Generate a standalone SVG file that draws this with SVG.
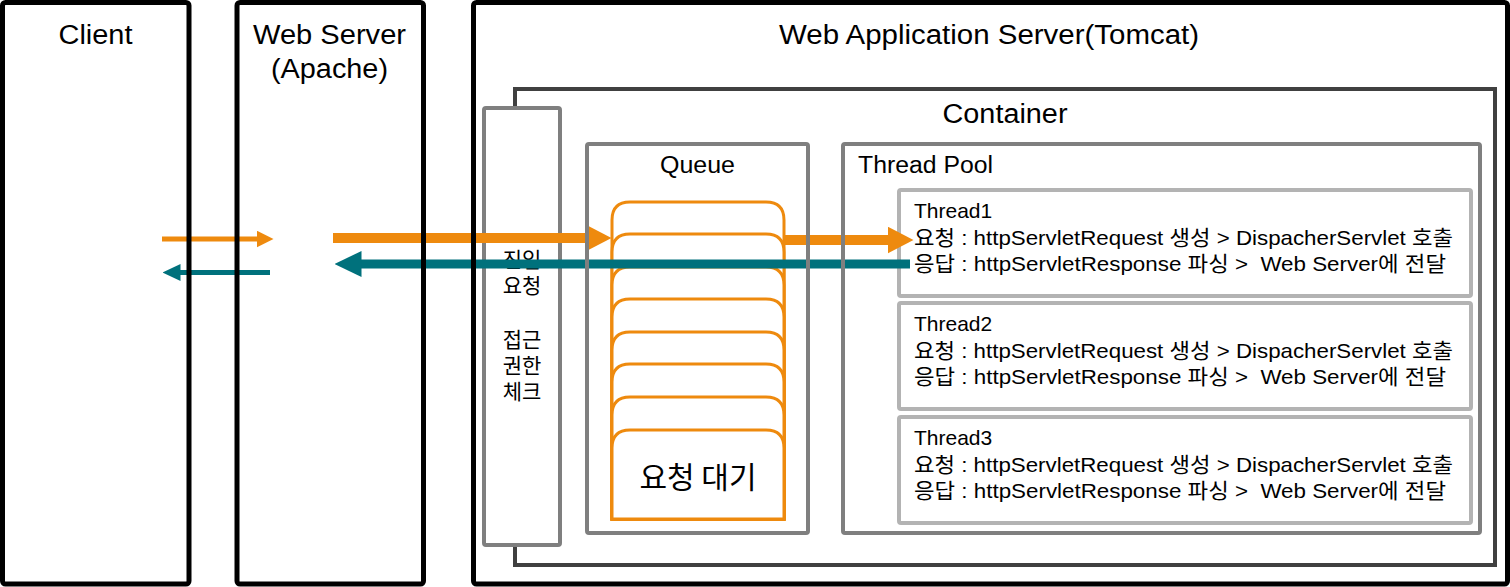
<svg xmlns="http://www.w3.org/2000/svg" width="1510" height="587" viewBox="0 0 1510 587">
<style>
.outer{fill:none;stroke:#000;stroke-width:5}
.cont{fill:none;stroke:#404040;stroke-width:4}
.mid{fill:none;stroke:#7f7f7f;stroke-width:4}
.gate{fill:#fff;stroke:#7f7f7f;stroke-width:4}
.thr{fill:none;stroke:#b3b3b3;stroke-width:4}
.qi{fill:#fff;stroke:#ee8a0e;stroke-width:3}
.t{font-family:"Liberation Sans","Noto Sans CJK KR",sans-serif;fill:#000}
.title{font-size:27px;text-anchor:middle}
.sub{font-size:23px}
.th{font-size:21px;white-space:pre}
.kr{font-family:"Noto Sans CJK KR","Liberation Sans",sans-serif;fill:#000;text-anchor:middle}
.ao{stroke:#ee8a0e;fill:none}
.at{stroke:#00717c;fill:none}
</style>
<defs>
<marker id="hoS" markerUnits="userSpaceOnUse" markerWidth="17" markerHeight="17" refX="0.5" refY="8.5" orient="auto"><path d="M0,0 L17,8.5 L0,17 z" fill="#ee8a0e"/></marker>
<marker id="htS" markerUnits="userSpaceOnUse" markerWidth="18" markerHeight="17" refX="0.5" refY="8.5" orient="auto"><path d="M0,0 L18,8.5 L0,17 z" fill="#00717c"/></marker>
<marker id="hoL" markerUnits="userSpaceOnUse" markerWidth="26" markerHeight="27" refX="0.5" refY="13.5" orient="auto"><path d="M0,0 L26,13.5 L0,27 z" fill="#ee8a0e"/></marker>
<marker id="htL" markerUnits="userSpaceOnUse" markerWidth="27" markerHeight="26" refX="0.5" refY="13" orient="auto"><path d="M0,0 L27,13 L0,26 z" fill="#00717c"/></marker>
</defs>
<rect width="1510" height="587" fill="#fff"/>

<g id="container">
<path class="cont" d="M515,108 V89 H1495 V565 H515 V545"/>
<text class="t title" x="1005" y="123" textLength="125" lengthAdjust="spacingAndGlyphs">Container</text>
</g>

<g id="gatekeeper">
<rect class="gate" x="484" y="108" width="76" height="437" rx="2"/>
<text class="kr" font-size="21" x="522" y="267">진입<tspan x="522" dy="26">요청</tspan></text>
<text class="kr" font-size="21" x="522" y="347">접근<tspan x="522" dy="26">권한</tspan><tspan x="522" dy="26">체크</tspan></text>
</g>

<g id="queue-items">
<path class="qi" d="M612,519 V220 Q612,202 630,202 H766 Q784,202 784,220 V519 Z"/>
<path class="qi" d="M612,519 V252 Q612,234 630,234 H766 Q784,234 784,252 V519 Z"/>
<path class="qi" d="M612,519 V285 Q612,267 630,267 H766 Q784,267 784,285 V519 Z"/>
<path class="qi" d="M612,519 V317 Q612,299 630,299 H766 Q784,299 784,317 V519 Z"/>
<path class="qi" d="M612,519 V350 Q612,332 630,332 H766 Q784,332 784,350 V519 Z"/>
<path class="qi" d="M612,519 V382 Q612,364 630,364 H766 Q784,364 784,382 V519 Z"/>
<path class="qi" d="M612,519 V415 Q612,397 630,397 H766 Q784,397 784,415 V519 Z"/>
<path class="qi" d="M612,519 V448 Q612,430 630,430 H766 Q784,430 784,448 V519 Z"/>
<text class="kr" font-size="30" x="698" y="488">요청 대기</text>
</g>

<g id="thread1">
<rect class="thr" x="899" y="190" width="572" height="106" rx="2"/>
<text class="t th" x="914" y="218">Thread1</text>
<text class="t th" x="914" y="245" textLength="539" lengthAdjust="spacingAndGlyphs">요청 : httpServletRequest 생성 &gt; DispacherServlet 호출</text>
<text class="t th" x="914" y="271" textLength="532" lengthAdjust="spacingAndGlyphs">응답 : httpServletResponse 파싱 &gt;  Web Server에 전달</text>
</g>
<g id="thread2">
<rect class="thr" x="899" y="303" width="572" height="106" rx="2"/>
<text class="t th" x="914" y="331">Thread2</text>
<text class="t th" x="914" y="358" textLength="539" lengthAdjust="spacingAndGlyphs">요청 : httpServletRequest 생성 &gt; DispacherServlet 호출</text>
<text class="t th" x="914" y="384" textLength="532" lengthAdjust="spacingAndGlyphs">응답 : httpServletResponse 파싱 &gt;  Web Server에 전달</text>
</g>
<g id="thread3">
<rect class="thr" x="899" y="417" width="572" height="106" rx="2"/>
<text class="t th" x="914" y="445">Thread3</text>
<text class="t th" x="914" y="472" textLength="539" lengthAdjust="spacingAndGlyphs">요청 : httpServletRequest 생성 &gt; DispacherServlet 호출</text>
<text class="t th" x="914" y="498" textLength="532" lengthAdjust="spacingAndGlyphs">응답 : httpServletResponse 파싱 &gt;  Web Server에 전달</text>
</g>

<g id="connectors">
<path class="ao" stroke-width="5" d="M162,239 H257" marker-end="url(#hoS)"/>
<path class="at" stroke-width="5" d="M270,272.5 H180" marker-end="url(#htS)"/>
<path class="ao" stroke-width="10" d="M333,238 H586" marker-end="url(#hoL)"/>
<path class="at" stroke-width="9" d="M910,264 H361" marker-end="url(#htL)"/>
<path class="ao" stroke-width="10" d="M784,240 H888" marker-end="url(#hoL)"/>
</g>

<g id="client">
<rect class="outer" x="2.5" y="2.5" width="186.5" height="581.5" rx="3"/>
<text class="t title" x="95.5" y="44" textLength="74" lengthAdjust="spacingAndGlyphs">Client</text>
</g>
<g id="web-server">
<rect class="outer" x="237" y="2.5" width="186.5" height="581.5" rx="3"/>
<text class="t title" x="329.5" y="44" textLength="153" lengthAdjust="spacingAndGlyphs">Web Server</text>
<text class="t title" x="329.5" y="78" textLength="117" lengthAdjust="spacingAndGlyphs">(Apache)</text>
</g>
<g id="was">
<rect class="outer" x="473.5" y="2.5" width="1034" height="581.5" rx="3"/>
<text class="t title" x="989" y="44" textLength="420" lengthAdjust="spacingAndGlyphs">Web Application Server(Tomcat)</text>
</g>
<g id="queue">
<rect class="mid" x="587" y="144" width="221" height="389" rx="2"/>
<text class="t sub" x="697.5" y="173" text-anchor="middle" textLength="75" lengthAdjust="spacingAndGlyphs">Queue</text>
</g>
<g id="thread-pool">
<rect class="mid" x="843" y="144" width="637" height="389" rx="2"/>
<text class="t sub" x="858" y="173" textLength="135" lengthAdjust="spacingAndGlyphs">Thread Pool</text>
</g>
</svg>
